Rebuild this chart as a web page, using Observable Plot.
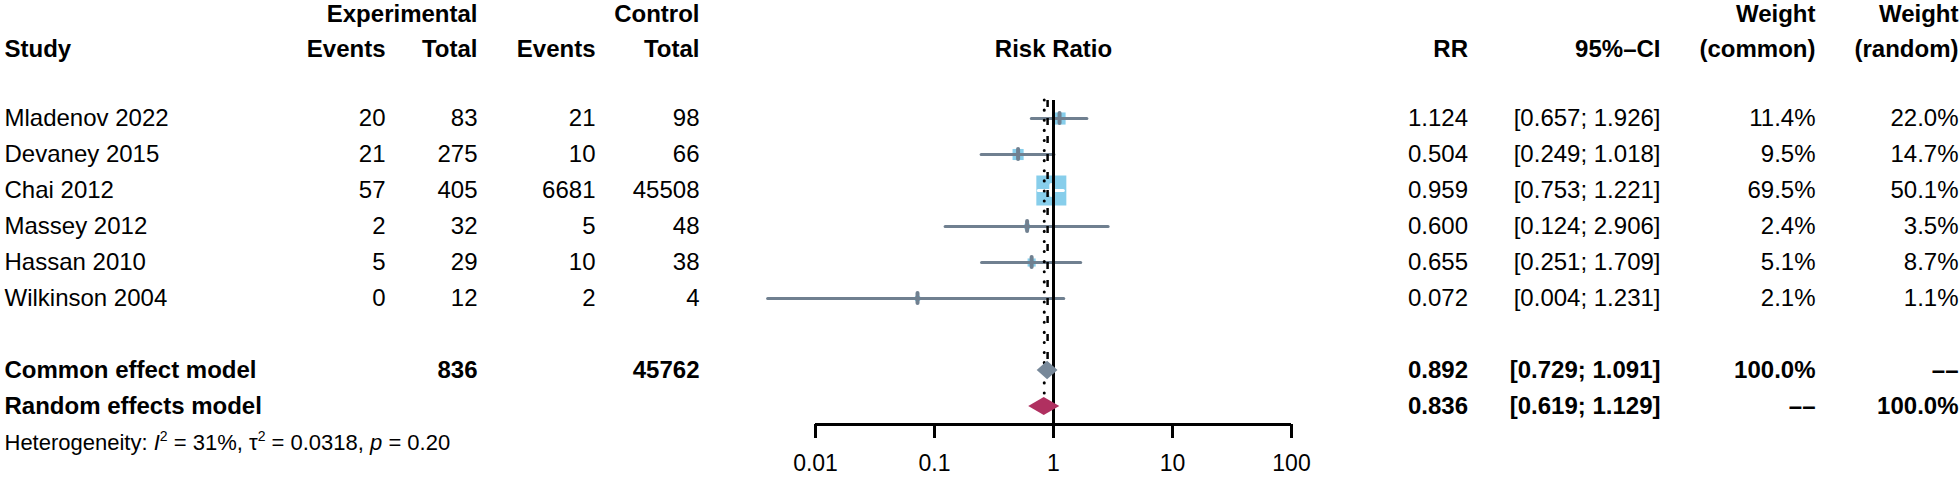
<!DOCTYPE html>
<html><head><meta charset="utf-8">
<script src="https://cdn.jsdelivr.net/npm/d3@7"></script>
<script src="https://cdn.jsdelivr.net/npm/@observablehq/plot@0.6"></script>
<style>
html,body{margin:0;padding:0;background:#fff;}
#chart{position:relative;width:1960px;height:478px;overflow:hidden;}
#chart > svg{position:absolute;top:0;}
</style></head><body><div id="chart"></div>
<script>
// ---------- data ----------
const studies = ["Mladenov 2022","Devaney 2015","Chai 2012","Massey 2012","Hassan 2010","Wilkinson 2004"];
const expEvents = [20,21,57,2,5,0];
const expTotal = [83,275,405,32,29,12];
const ctlEvents = [21,10,6681,5,10,2];
const ctlTotal = [98,66,45508,48,38,4];
const rr = [1.124,0.504,0.959,0.600,0.655,0.072];
const ciLower = [0.657,0.249,0.753,0.124,0.251,0.004];
const ciUpper = [1.926,1.018,1.221,2.906,1.709,1.231];
const weightCommon = [11.4,9.5,69.5,2.4,5.1,2.1];
const weightRandom = [22.0,14.7,50.1,3.5,8.7,1.1];

const models = ["Common effect model","Random effects model"];
const modelEst = [0.892,0.836];
const modelLower = [0.729,0.619];
const modelUpper = [1.091,1.129];
const modelWeightCommon = [100.0, null];
const modelWeightRandom = [null, 100.0];
const modelExpTotal = [836, null];
const modelCtlTotal = [45762, null];
const hetI2 = "31%", hetTau2 = "0.0318", hetP = "0.20";
const xTicks = [0.01,0.1,1,10,100];
const xTickLabels = ["0.01","0.1","1","10","100"];
const headerGroups = ["Experimental","Control"];
const headerStudy = "Study";
const headerCounts = ["Events","Total","Events","Total"];
const headerRightTop = ["Weight","Weight"];
const headerRight = ["RR","95%\u2013CI","(common)","(random)"];
const axisTitle = "Risk Ratio";

// ---------- layout ----------
const H = 478;
const FONT = "Liberation Sans, Arial, Helvetica, sans-serif";
const FS = 24;
const yOpts = {type:"linear", domain:[-3.278, 10], range:[0, H], axis:null};
const R = {group:-2.9, header:-1.93, common:7, random:8, het:9, top:-0.5, axis:8.5, tick:8.5+14/36, tickLabel:9.6};
const SLATE = "#708090", SQUARE = "#87CEEB", COMMON = "#778899", RANDOM = "#B03060";

const f3 = d3.format(".3f");
const pct = v => v == null ? "\u2013\u2013" : d3.format(".1f")(v) + "%";
const ci = (l,u) => `[${f3(l)}; ${f3(u)}]`;
const num = v => String(v);

const rows = studies.map((s,i) => ({
  study:s, row:i, ee:expEvents[i], et:expTotal[i], ce:ctlEvents[i], ct:ctlTotal[i],
  rr:rr[i], lo:ciLower[i], hi:ciUpper[i], wc:weightCommon[i], wr:weightRandom[i]
}));
const mrows = models.map((m,i) => ({
  study:m, row: i===0 ? R.common : R.random, et:modelExpTotal[i], ct:modelCtlTotal[i],
  rr:modelEst[i], lo:modelLower[i], hi:modelUpper[i], wc:modelWeightCommon[i], wr:modelWeightRandom[i]
}));

const chart = document.getElementById("chart");
function place(svg, left){ svg.style.left = left + "px"; chart.appendChild(svg); }
const baseStyle = {fontFamily: FONT, fontSize: FS + "px", background: "transparent", overflow: "visible"};
const txt = (data, opts) => Plot.text(data, {fontSize: FS, ...opts});

// ---------- left table ----------
const LW = 740;
const LC = {study:4, ee:385, et:477, ce:595, ct:699};
const countCols = [LC.ee, LC.et, LC.ce, LC.ct];
const left = Plot.plot({
  width: LW, height: H, margin: 0,
  x: {type:"linear", domain:[0,LW], range:[0,LW], axis:null},
  y: yOpts,
  style: baseStyle,
  marks: [
    txt(headerGroups, {x:(d,i)=>[LC.et,LC.ct][i], y:R.group, text:d=>d, textAnchor:"end", fontWeight:"bold"}),
    txt([headerStudy], {x:LC.study, y:R.header, text:d=>d, textAnchor:"start", fontWeight:"bold"}),
    txt(headerCounts, {x:(d,i)=>countCols[i], y:R.header, text:d=>d, textAnchor:"end", fontWeight:"bold"}),
    txt(rows, {x:LC.study, y:"row", text:"study", textAnchor:"start"}),
    txt(rows, {x:LC.ee, y:"row", text:d=>num(d.ee), textAnchor:"end"}),
    txt(rows, {x:LC.et, y:"row", text:d=>num(d.et), textAnchor:"end"}),
    txt(rows, {x:LC.ce, y:"row", text:d=>num(d.ce), textAnchor:"end"}),
    txt(rows, {x:LC.ct, y:"row", text:d=>num(d.ct), textAnchor:"end"}),
    txt(mrows, {x:LC.study, y:"row", text:"study", textAnchor:"start", fontWeight:"bold"}),
    txt(mrows.filter(d=>d.et!=null), {x:LC.et, y:"row", text:d=>num(d.et), textAnchor:"end", fontWeight:"bold"}),
    txt(mrows.filter(d=>d.ct!=null), {x:LC.ct, y:"row", text:d=>num(d.ct), textAnchor:"end", fontWeight:"bold"}),
    Plot.text([`Heterogeneity: I\u00b2 = ${hetI2}, \u03c4\u00b2 = ${hetTau2}, p = ${hetP}`], {x:LC.study, y:R.het, text:d=>d, textAnchor:"start", fontSize:22})
  ]
});
place(left, 0);

// heterogeneity: italic symbols and superscripts
d3.select(left).selectAll("text").each(function(){
  if (this.textContent.startsWith("Heterogeneity")) {
    this.innerHTML = `Heterogeneity: <tspan font-style="italic">I</tspan><tspan dy="-9" font-size="14">2</tspan><tspan dy="9"> = ${hetI2}, \u03c4</tspan><tspan dy="-9" font-size="14">2</tspan><tspan dy="9"> = ${hetTau2}, </tspan><tspan font-style="italic">p</tspan><tspan> = ${hetP}</tspan>`;
  }
});

// ---------- forest panel ----------
const FL = 740, FW = 600;
const xOpts = {type:"log", domain:[0.01,100], range:[815-FL, 1291-FL]};
const xs = Plot.scale({x: xOpts});
const rOpts = {type:"sqrt", domain:[0, 69.5], range:[0, 16.93]};
const rs = Plot.scale({r: rOpts});
const inside = d => {
  const half = rs.apply(d.wc) * Math.sqrt(Math.PI) / 2, c = xs.apply(d.rr);
  return xs.apply(d.lo) >= c - half && xs.apply(d.hi) <= c + half;
};
const diamondPts = (i, h) => {
  const m = mrows[i];
  return [{y:m.row-h, x1:m.rr, x2:m.rr},{y:m.row, x1:m.lo, x2:m.hi},{y:m.row+h, x1:m.rr, x2:m.rr}];
};
const forest = Plot.plot({
  width: FW, height: H, margin: 0,
  x: {...xOpts, axis:null},
  y: yOpts,
  r: rOpts,
  style: baseStyle,
  marks: [
    Plot.text([axisTitle], {x:1, y:R.header, text:d=>d, fontSize:FS, fontWeight:"bold"}),
    Plot.dot(rows, {x:"rr", y:"row", r:"wc", symbol:"square", fill:SQUARE, stroke:null}),
    Plot.ruleY(rows, {y:"row", x1:"lo", x2:"hi", stroke:d=>inside(d)?"white":SLATE, strokeWidth:3, strokeLinecap:"round"}),
    Plot.ruleX(rows, {x:"rr", y1:d=>d.row-0.14, y2:d=>d.row+0.14, stroke:d=>inside(d)?"white":SLATE, strokeWidth:4, strokeLinecap:"round"}),
    Plot.ruleX([1], {x:d=>d, y1:R.top, y2:R.axis, strokeWidth:3}),
    Plot.ruleX([mrows[0]], {x:"rr", y1:R.top, y2:R.common-0.28, strokeWidth:2.5, strokeDasharray:"7,11"}),
    Plot.ruleX([mrows[1]], {x:"rr", y1:R.top, y2:R.random-0.3, strokeWidth:3, strokeDasharray:"0.1,10", strokeLinecap:"round"}),
    Plot.areaX(diamondPts(0, 0.26), {y:"y", x1:"x1", x2:"x2", fill:COMMON, curve:"linear"}),
    Plot.areaX(diamondPts(1, 0.25), {y:"y", x1:"x1", x2:"x2", fill:RANDOM, curve:"linear"}),
    Plot.ruleY([R.axis], {y:d=>d, x1:xTicks[0], x2:xTicks[xTicks.length-1], strokeWidth:3}),
    Plot.ruleX(xTicks, {x:d=>d, y1:R.axis, y2:R.tick, strokeWidth:3}),
    Plot.text(xTicks, {x:d=>d, y:R.tickLabel, text:(d,i)=>xTickLabels[i], fontSize:23})
  ]
});
place(forest, FL);

// ---------- right table ----------
const RL = 1340, RW = 620;
const RC = {rr:1467.5-RL, ci:1660-RL, wc:1815-RL, wr:1958-RL};
const right = Plot.plot({
  width: RW, height: H, margin: 0,
  x: {type:"linear", domain:[0,RW], range:[0,RW], axis:null},
  y: yOpts,
  style: baseStyle,
  marks: [
    txt(headerRightTop, {x:(d,i)=>[RC.wc,RC.wr][i], y:R.group, text:d=>d, textAnchor:"end", fontWeight:"bold"}),
    txt(headerRight, {x:(d,i)=>[RC.rr,RC.ci,RC.wc,RC.wr][i], y:R.header, text:d=>d, textAnchor:"end", fontWeight:"bold"}),
    txt(rows, {x:RC.rr, y:"row", text:d=>f3(d.rr), textAnchor:"end"}),
    txt(rows, {x:RC.ci, y:"row", text:d=>ci(d.lo,d.hi), textAnchor:"end"}),
    txt(rows, {x:RC.wc, y:"row", text:d=>pct(d.wc), textAnchor:"end"}),
    txt(rows, {x:RC.wr, y:"row", text:d=>pct(d.wr), textAnchor:"end"}),
    txt(mrows, {x:RC.rr, y:"row", text:d=>f3(d.rr), textAnchor:"end", fontWeight:"bold"}),
    txt(mrows, {x:RC.ci, y:"row", text:d=>ci(d.lo,d.hi), textAnchor:"end", fontWeight:"bold"}),
    txt(mrows, {x:RC.wc, y:"row", text:d=>pct(d.wc), textAnchor:"end", fontWeight:"bold"}),
    txt(mrows, {x:RC.wr, y:"row", text:d=>pct(d.wr), textAnchor:"end", fontWeight:"bold"})
  ]
});
place(right, RL);
</script></body></html>
